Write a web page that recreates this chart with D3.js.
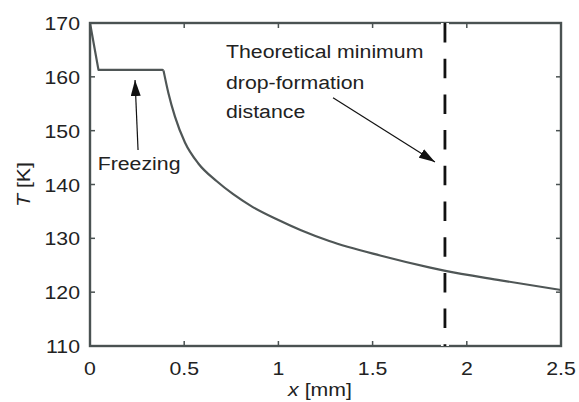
<!DOCTYPE html>
<html>
<head>
<meta charset="utf-8">
<script src="https://cdn.jsdelivr.net/npm/d3@7"></script>
<style>
  body { margin: 0; background: #fff; }
  text { font-family: "Liberation Sans", Arial, sans-serif; fill: #222; }
</style>
</head>
<body>
<div id="chart"></div>
<script>
// temperature profile
const xVals = [0, 0.045, 0.385, 0.39, 0.416, 0.451, 0.504, 0.575, 0.673, 0.76, 0.86, 1.0, 1.12, 1.27, 1.54, 1.80, 1.88, 2.18, 2.5];
const tVals = [170, 161.3, 161.3, 161.2, 157.0, 152.6, 147.8, 143.9, 140.6, 138.2, 135.9, 133.4, 131.5, 129.5, 126.8, 124.6, 124.0, 122.2, 120.4];
const xTicks = [0, 0.5, 1, 1.5, 2, 2.5];
const xTickLabels = ["0", "0.5", "1", "1.5", "2", "2.5"];
const yTicks = [110, 120, 130, 140, 150, 160, 170];
const dropX = 1.884;
const kneeIndex = 3; // linear part (drop + freezing plateau) ends here

const W = 579, H = 402;
const margin = {top: 23, right: 18, bottom: 56, left: 90};
const width = W - margin.left - margin.right;
const height = H - margin.top - margin.bottom;
const sx = 1.12; // text in the figure is a bit wider than tall

const svg = d3.select("#chart").append("svg")
    .attr("width", W).attr("height", H);
const g = svg.append("g")
    .attr("transform", `translate(${margin.left},${margin.top})`);

const x = d3.scaleLinear().domain([0, 2.5]).range([0, width]);
const y = d3.scaleLinear().domain([110, 170]).range([height, 0]);

function label(parent, px, py, str, anchor, rot) {
  const t = parent.append("g")
      .attr("transform", `translate(${px},${py})` + (rot ? ` rotate(${rot})` : "") + ` scale(${sx},1)`)
      .append("text")
      .attr("text-anchor", anchor || "start")
      .style("font-size", "19px");
  return t.text(str);
}

// curve: straight drop and plateau, then smooth decay
const pts = xVals.map((v, i) => [v, tVals[i]]);
const lineLin = d3.line().x(d => x(d[0])).y(d => y(d[1]));
const lineSmooth = d3.line().x(d => x(d[0])).y(d => y(d[1])).curve(d3.curveMonotoneX);
const curve = g.append("g")
    .attr("fill", "none")
    .attr("stroke", "#4f5656")
    .attr("stroke-width", 2.2)
    .attr("stroke-linejoin", "round");
curve.append("path").attr("d", lineLin(pts.slice(0, kneeIndex + 1)));
curve.append("path").attr("d", lineSmooth(pts.slice(kneeIndex)));

// frame + ticks
const frame = "#4a5252";
g.append("rect").attr("x", 0).attr("y", 0).attr("width", width).attr("height", height)
    .attr("fill", "none").attr("stroke", frame).attr("stroke-width", 2.4);

xTicks.forEach(v => {
  g.append("line").attr("x1", x(v)).attr("x2", x(v)).attr("y1", height).attr("y2", height - 5)
      .attr("stroke", frame).attr("stroke-width", 1.5);
  g.append("line").attr("x1", x(v)).attr("x2", x(v)).attr("y1", 0).attr("y2", 5)
      .attr("stroke", frame).attr("stroke-width", 1.5);
});
yTicks.forEach(v => {
  g.append("line").attr("x1", 0).attr("x2", 5).attr("y1", y(v)).attr("y2", y(v))
      .attr("stroke", frame).attr("stroke-width", 1.5);
  g.append("line").attr("x1", width).attr("x2", width - 5).attr("y1", y(v)).attr("y2", y(v))
      .attr("stroke", frame).attr("stroke-width", 1.5);
});

xTicks.forEach((v, i) => label(g, x(v), height + 29, xTickLabels[i], "middle"));
yTicks.forEach(v => label(g, -10, y(v) + 7, String(v), "end"));

// axis titles
const yt = label(svg, 30, margin.top + height / 2, "", "middle", -90);
yt.append("tspan").style("font-style", "italic").text("T");
yt.append("tspan").text(" [K]");
const xt = label(svg, 320, 396, "", "middle");
xt.append("tspan").style("font-style", "italic").text("x");
xt.append("tspan").text(" [mm]");

// dashed theoretical minimum line
g.append("line").attr("x1", x(dropX)).attr("x2", x(dropX)).attr("y1", 0).attr("y2", height)
    .attr("stroke", "#fff").attr("stroke-width", 8).attr("stroke-dasharray", "19.5,16.2");
g.append("line").attr("x1", x(dropX)).attr("x2", x(dropX)).attr("y1", 0).attr("y2", height)
    .attr("stroke", "#111").attr("stroke-width", 2.8).attr("stroke-dasharray", "19.5,16.2");

// annotations
svg.append("defs").append("marker")
    .attr("id", "head").attr("markerUnits", "userSpaceOnUse")
    .attr("viewBox", "0 0 16 10").attr("refX", 16).attr("refY", 5)
    .attr("markerWidth", 16).attr("markerHeight", 10).attr("orient", "auto")
  .append("path").attr("d", "M0,0 L16,5 L0,10 Z").attr("fill", "#111");

const arrows = [
  {from: [0.255, 146.4], to: [0.239, 159.4]},
  {from: [1.29, 156.1], to: [1.831, 144.2]}
];
arrows.forEach(a => {
  g.append("line")
      .attr("x1", x(a.from[0])).attr("y1", y(a.from[1]))
      .attr("x2", x(a.to[0])).attr("y2", y(a.to[1]))
      .attr("stroke", "#111").attr("stroke-width", 1.2)
      .attr("marker-end", "url(#head)");
});

label(g, x(0.041), y(142.7), "Freezing");
label(g, x(0.722), y(163.5), "Theoretical minimum");
label(g, x(0.722), y(157.7), "drop-formation");
label(g, x(0.722), y(152.35), "distance");
</script>
</body>
</html>
